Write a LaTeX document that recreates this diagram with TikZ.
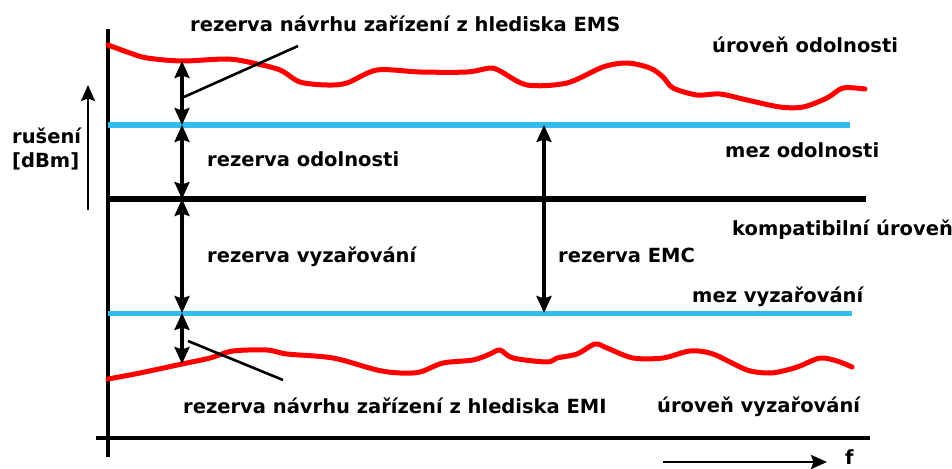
\documentclass[tikz,border=0pt]{standalone}
\usepackage{fontspec}
\setmainfont{DejaVu Sans}
\usetikzlibrary{arrows.meta}
\definecolor{skyb}{RGB}{48,188,236}
\begin{document}
\begin{tikzpicture}[x=1pt,y=-1pt,
  redc/.style={draw=red, line width=5pt, line join=round, line cap=round},
  bluel/.style={draw=skyb, line width=5pt},
  axis/.style={draw=black, line width=3.5pt},
  dbl/.style={line width=3.2pt, arrows={Stealth[length=17pt,width=15pt,inset=2.5pt]-Stealth[length=17pt,width=15pt,inset=2.5pt]}},
  sgl/.style={line width=2.8pt, arrows={-Stealth[length=16pt,width=14pt,inset=2.5pt]}},
  leader/.style={line width=2.6pt},
  lbl/.style={font=\fontsize{19.5}{23}\selectfont\bfseries, inner sep=0pt, anchor=base west},
]
\useasboundingbox (0,0) rectangle (952,468);

% axes
\coordinate (yb) at (108,457); \coordinate (yt) at (108,29);
\coordinate (xl) at (96,438); \coordinate (xr) at (870,438);
\draw[axis] (yb) -- (yt);
\draw[axis] (xl) -- (xr);

% horizontal levels
\coordinate (mo1) at (108,125); \coordinate (mo2) at (850,125);
\coordinate (ku1) at (108,199); \coordinate (ku2) at (866,199);
\coordinate (mv1) at (108,313); \coordinate (mv2) at (852,313);
\draw[bluel] (mo1) -- (mo2);
\draw[line width=6pt] (ku1) -- (ku2);
\draw[bluel] (mv1) -- (mv2);

% red curves
\draw[redc] plot[smooth, tension=0.5] coordinates {
 (108,45) (130,53) (147,58) (182,61) (227,59) (253,63) (280,70) (300,82)
 (327,85) (347,83) (377,70) (420,72) (467,72) (490,68) (500,71) (527,85)
 (567,83) (603,67) (627,63) (650,68) (663,77) (673,88) (697,95) (720,94)
 (747,100) (780,107) (803,107) (827,98) (843,88) (865,89)};
\draw[redc] plot[smooth, tension=0.5] coordinates {
 (108,379) (140,373) (182,364) (210,358) (233,351) (267,350) (287,354)
 (333,358) (377,370) (400,373) (420,372) (443,363) (473,360) (490,354)
 (500,350) (513,358) (547,362) (557,358) (577,354) (595,344) (607,348)
 (633,358) (663,358) (690,351) (713,354) (747,370) (770,373) (787,370)
 (800,366) (820,358) (837,361) (852,367)};

% margin arrows
\coordinate (r1) at (182,61);
\coordinate (a1) at (182,125);
\coordinate (a2) at (182,199);
\coordinate (a3) at (182,313);
\coordinate (r2) at (182,364);
\draw[dbl] (r1) -- (a1);
\draw[dbl] (a1) -- (a2);
\draw[dbl] (a2) -- (a3);
\draw[dbl] (a3) -- (r2);
\coordinate (e1) at (544,125);
\coordinate (e2) at (544,313);
\draw[dbl] (e1) -- (e2);

% leader lines
\coordinate (l1a) at (184,97); \coordinate (l1b) at (298,46);
\coordinate (l2a) at (188,341); \coordinate (l2b) at (283,380);
\draw[leader] (l1a) -- (l1b);
\draw[leader] (l2a) -- (l2b);

% axis arrows
\coordinate (ra) at (88,210); \coordinate (rb) at (88,85);
\draw[sgl] (ra) -- (rb);
\coordinate (fa) at (663,462); \coordinate (fb) at (827,462);
\draw[sgl] (fa) -- (fb);

% labels
\node[lbl] (tems) at (190,32) {rezerva návrhu zařízení z hlediska EMS};
\node[lbl] (tuo) at (712,53) {úroveň odolnosti};
\node[lbl] (tro) at (207,166) {rezerva odolnosti};
\node[lbl] (tmo) at (725,157) {mez odolnosti};
\node[lbl] (tku) at (732,235) {kompatibilní úroveň};
\node[lbl] (trv) at (207,262) {rezerva vyzařování};
\node[lbl] (temc) at (558,262) {rezerva EMC};
\node[lbl] (tmv) at (692,302) {mez vyzařování};
\node[lbl] (temi) at (183,413) {rezerva návrhu zařízení z hlediska EMI};
\node[lbl] (tuv) at (657,412) {úroveň vyzařování};
\node[lbl] (tf) at (845,464) {f};
\node[lbl] (tru) at (12,143) {rušení};
\node[lbl] (tdb) at (12,167) {[dBm]};
\end{tikzpicture}
\end{document}
